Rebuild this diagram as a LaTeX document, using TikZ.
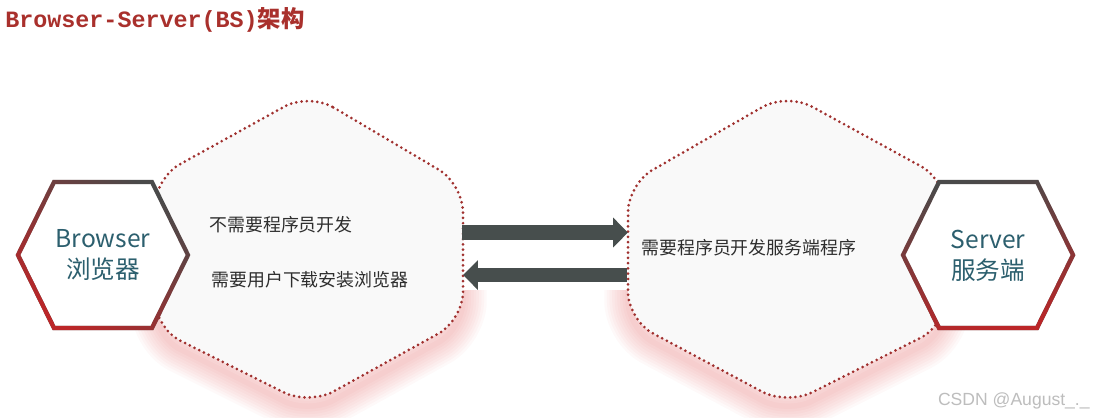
\documentclass[tikz,border=0pt]{standalone}
\usepackage{fontspec}
\setmainfont{Noto Sans CJK SC}
\newfontfamily\titlemono{Liberation Mono}
\newfontfamily\markfont{Liberation Sans}
\usepackage{tikz}
\usetikzlibrary{arrows.meta, fadings}
\usepackage{xcolor}

\definecolor{titlered}{HTML}{A9302C}
\definecolor{labelteal}{HTML}{2C5F6E}
\definecolor{hexgray}{HTML}{4A4A4A}
\definecolor{hexred}{HTML}{BC2628}
\definecolor{dotred}{HTML}{A0302E}
\definecolor{arrowgray}{HTML}{474E4D}
\definecolor{blobfill}{HTML}{F9F9F9}
\definecolor{glowred}{HTML}{E04848}
\definecolor{notegray}{HTML}{2E2E2E}
\definecolor{markgray}{HTML}{BDBDBD}

% the two dotted blobs
\newcommand\blobleft{(309,93) -- (463,184) -- (463,320) -- (309,405) -- (155,328) -- (155,178) -- cycle}
\newcommand\blobright{(787,93) -- (946,180) -- (946,325) -- (787,405) -- (628,320) -- (628,184) -- cycle}
% flat-top hexagon round (0,0)
\newcommand\hexa{(-85,0) -- (-49,-73) -- (49,-73) -- (85,0) -- (49,73) -- (-49,73) -- cycle}

\tikzset{
  blob/.style={fill=blobfill, draw=dotred, line width=1.7pt, line cap=round,
    dash pattern=on 0pt off 3pt, rounded corners=16pt},
  glow/.style={draw=glowred, opacity=0.03, line join=round, rounded corners=16pt},
  hexline/.style={line width=2.4pt},
  hexlabel/.style={text=labelteal, align=center, inner sep=0,
    font=\fontsize{14}{17.5}\selectfont},
  note/.style={text=notegray, anchor=west, inner sep=0,
    font=\fontsize{10.2}{12}\selectfont},
  blockarrow/.style={draw=arrowgray, line width=8.5pt,
    -{Triangle[length=8.5pt, width=16.5pt]}},
}

\begin{document}
\begin{tikzpicture}[x=0.02cm, y=-0.02cm]
  \useasboundingbox (0,0) rectangle (1094,417);
  \fill[white] (0,0) rectangle (1094,417);

  % titolo
  \node[anchor=base west, inner sep=0, text=titlered, font=\fontsize{13.3}{15}\selectfont\bfseries]
    (title) at (5,27) {{\titlemono\bfseries Browser-Server(BS)}架构};

  % alone rossi sotto i blob
  \begin{scope}
    \clip (120,290) rectangle (990,417);
    \foreach \w in {3,6,...,27} {
      \draw[glow, line width=\w pt, yshift=-5pt] \blobleft;
      \draw[glow, line width=\w pt, yshift=-5pt] \blobright;
    }
  \end{scope}

  % blob
  \path[blob] \blobleft;
  \path[blob] \blobright;

  % frecce
  \coordinate (outL) at (462,232.5);
  \coordinate (inR) at (628,232.5);
  \coordinate (outR) at (627,275);
  \coordinate (inL) at (463,275);
  \draw[blockarrow] (outL) -- (inR);
  \draw[blockarrow] (outR) -- (inL);

  % esagoni
  \begin{scope}[shift={(103,255)}]
    \fill[white] \hexa;
    \draw[hexline, draw=hexgray] \hexa;
    \draw[hexline, draw=hexred, path fading=north, fading angle=-40] \hexa;
  \end{scope}
  \begin{scope}[shift={(988,255)}]
    \fill[white] \hexa;
    \draw[hexline, draw=hexgray] \hexa;
    \draw[hexline, draw=hexred, path fading=north, fading angle=10] \hexa;
  \end{scope}
  \node[hexlabel] (browser) at (103,255) {Browser\\浏览器};
  \node[hexlabel] (server) at (988,256) {Server\\服务端};

  % testi
  \node[note] (nodev) at (209,225) {不需要程序员开发};
  \node[note] (download) at (211,280) {需要用户下载安装浏览器};
  \node[note] (develop) at (641,248) {需要程序员开发服务端程序};

  \node[anchor=east, inner sep=0, text=markgray, font=\markfont\fontsize{10}{12}\selectfont]
    (mark) at (1090,401) {CSDN @August\_.\_};
\end{tikzpicture}
\end{document}
